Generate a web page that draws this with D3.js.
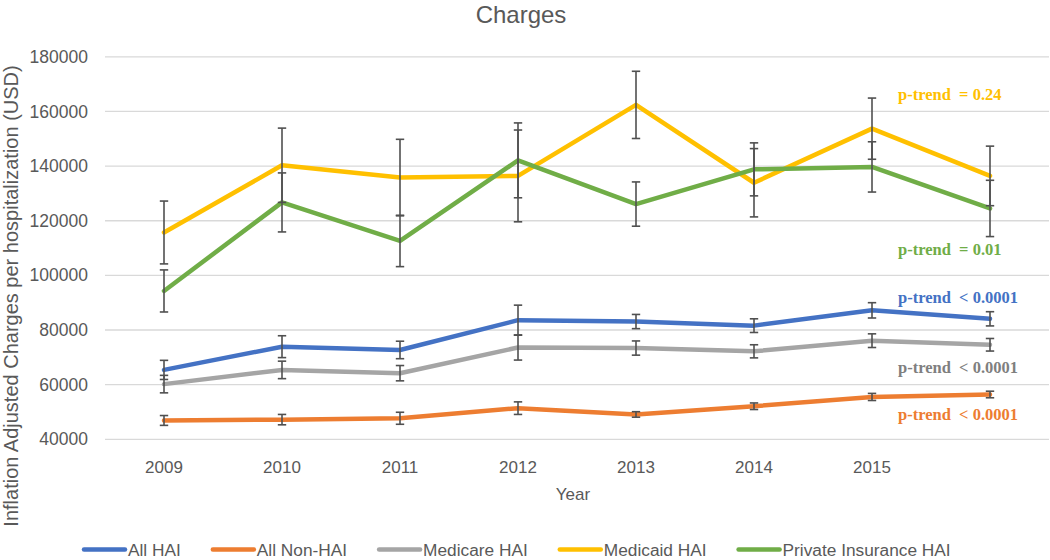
<!DOCTYPE html>
<html>
<head>
<meta charset="utf-8">
<script src="https://cdn.jsdelivr.net/npm/d3@7"></script>
<style>
  html, body { margin: 0; padding: 0; background: #fff; }
  svg { display: block; }
</style>
</head>
<body>
<svg id="chart" width="1050" height="560"></svg>
<script>
// ---------- DATA ----------
const years = ["2009", "2010", "2011", "2012", "2013", "2014", "2015", "2016"];
const tickLabels = ["2009", "2010", "2011", "2012", "2013", "2014", "2015", ""];
const yTicks = [40000, 60000, 80000, 100000, 120000, 140000, 160000, 180000];

const seriesNames = ["All HAI", "All Non-HAI", "Medicare HAI", "Medicaid HAI", "Private Insurance HAI"];

const allHAI      = [65400, 73900, 72700, 83600, 83100, 81600, 87200, 84100];
const allHAIErr   = [3500, 4000, 3200, 5500, 2600, 2500, 2800, 2600];
const allNonHAI    = [46900, 47200, 47700, 51400, 49100, 52100, 55500, 56400];
const allNonHAIErr = [1800, 1900, 2200, 2300, 1000, 1200, 1300, 1200];
const medicare    = [60200, 65400, 64200, 73600, 73400, 72200, 76100, 74600];
const medicareErr = [3200, 3200, 2800, 4600, 2600, 2400, 2500, 2300];
const medicaid    = [115700, 140300, 135800, 136400, 162400, 133900, 153700, 136400];
const medicaidErr = [11500, 13600, 14000, 16800, 12300, 12500, 11200, 10900];
const privateIns    = [94300, 126700, 112600, 142100, 126100, 138800, 139700, 124500];
const privateInsErr = [7700, 10800, 9400, 13700, 8100, 9700, 9200, 10300];

const pTrendLabels = ["p-trend  < 0.0001", "p-trend  < 0.0001", "p-trend  < 0.0001", "p-trend  = 0.24", "p-trend  = 0.01"];

// ---------- STYLE / LAYOUT ----------
const sans = "'Liberation Sans', Arial, sans-serif";
const serif = "'Liberation Serif', 'Times New Roman', serif";
const colors = ["#4472C4", "#ED7D31", "#A5A5A5", "#FFC000", "#70AD47"];
const labelColors = ["#4472C4", "#ED7D31", "#7F7F7F", "#FFC000", "#70AD47"];
const labelY = [302.5, 420, 372.5, 100, 255];

const values = [allHAI, allNonHAI, medicare, medicaid, privateIns];
const errors = [allHAIErr, allNonHAIErr, medicareErr, medicaidErr, privateInsErr];

const series = seriesNames.map((name, i) => ({
  name,
  color: colors[i],
  points: years.map((yr, j) => ({ year: yr, v: values[i][j], e: errors[i][j] }))
}));

const svg = d3.select("#chart");
const plot = { left: 105, right: 1049, top: 56.8, bottom: 439.3 };

const x = d3.scaleBand().domain(years).range([plot.left, plot.right]);
const xc = d => x(d) + x.bandwidth() / 2;
const y = d3.scaleLinear().domain([40000, 180000]).range([plot.bottom, plot.top]);

// Title
svg.append("text")
  .attr("x", 521).attr("y", 23)
  .attr("text-anchor", "middle")
  .style("font-family", sans)
  .attr("font-size", 24)
  .attr("fill", "#595959")
  .text("Charges");

// Gridlines
svg.append("g")
  .selectAll("line")
  .data(yTicks)
  .join("line")
  .attr("x1", plot.left).attr("x2", plot.right)
  .attr("y1", d => y(d)).attr("y2", d => y(d))
  .attr("stroke", "#D9D9D9")
  .attr("stroke-width", 1.3);

// Y axis (labels only)
const yAxis = d3.axisLeft(y).tickValues(yTicks).tickFormat(d3.format("d")).tickSize(0).tickPadding(0);
const gy = svg.append("g").attr("transform", "translate(88,0)").call(yAxis);
gy.select(".domain").remove();
gy.selectAll("text")
  .style("font-family", sans)
  .attr("font-size", 17.5)
  .attr("fill", "#595959");

// X axis (labels only)
const xAxis = d3.axisBottom(x).tickFormat((d, i) => tickLabels[i]).tickSize(0).tickPadding(0);
const gx = svg.append("g").attr("transform", "translate(0,458)").call(xAxis);
gx.select(".domain").remove();
gx.selectAll("text")
  .style("font-family", sans)
  .attr("font-size", 17)
  .attr("fill", "#595959")
  .attr("dy", "0.9em");

// Axis titles
svg.append("text")
  .attr("x", 573).attr("y", 500)
  .attr("text-anchor", "middle")
  .style("font-family", sans)
  .attr("font-size", 17)
  .attr("fill", "#595959")
  .text("Year");

svg.append("text")
  .attr("transform", "translate(18,296) rotate(-90)")
  .attr("text-anchor", "middle")
  .style("font-family", sans)
  .attr("font-size", 20)
  .attr("fill", "#595959")
  .text("Inflation Adjusted Charges per hospitalization (USD)");

// Lines
const line = d3.line().x(d => xc(d.year)).y(d => y(d.v));
svg.append("g")
  .selectAll("path")
  .data(series)
  .join("path")
  .attr("d", d => line(d.points))
  .attr("fill", "none")
  .attr("stroke", d => d.color)
  .attr("stroke-width", 4.5)
  .attr("stroke-linejoin", "round")
  .attr("stroke-linecap", "round");

// Error bars
const ebColor = "#505050";
const capW = 4.2;
const eg = svg.append("g");
series.forEach(s => {
  const g = eg.append("g");
  g.selectAll("line.v").data(s.points).join("line").attr("class", "v")
    .attr("x1", d => xc(d.year)).attr("x2", d => xc(d.year))
    .attr("y1", d => y(d.v + d.e)).attr("y2", d => y(d.v - d.e))
    .attr("stroke", ebColor).attr("stroke-width", 1.6);
  g.selectAll("line.t").data(s.points).join("line").attr("class", "t")
    .attr("x1", d => xc(d.year) - capW).attr("x2", d => xc(d.year) + capW)
    .attr("y1", d => y(d.v + d.e)).attr("y2", d => y(d.v + d.e))
    .attr("stroke", ebColor).attr("stroke-width", 1.6);
  g.selectAll("line.b").data(s.points).join("line").attr("class", "b")
    .attr("x1", d => xc(d.year) - capW).attr("x2", d => xc(d.year) + capW)
    .attr("y1", d => y(d.v - d.e)).attr("y2", d => y(d.v - d.e))
    .attr("stroke", ebColor).attr("stroke-width", 1.6);
});

// p-trend annotations
svg.append("g")
  .selectAll("text")
  .data(pTrendLabels)
  .join("text")
  .attr("x", 898)
  .attr("y", (d, i) => labelY[i])
  .style("font-family", serif)
  .style("font-weight", "bold")
  .style("white-space", "pre")
  .attr("font-size", 16.5)
  .attr("fill", (d, i) => labelColors[i])
  .text(d => d);

// Legend
const lg = svg.append("g");
let lx = 82;
const ly = 549.5;
series.forEach(s => {
  lg.append("line")
    .attr("x1", lx + 2).attr("x2", lx + 43)
    .attr("y1", ly).attr("y2", ly)
    .attr("stroke", s.color).attr("stroke-width", 4.5)
    .attr("stroke-linecap", "round");
  const t = lg.append("text")
    .attr("x", lx + 46).attr("y", ly + 6)
    .style("font-family", sans)
    .attr("font-size", 17.3)
    .attr("fill", "#595959")
    .text(s.name);
  lx = lx + 46 + t.node().getComputedTextLength() + 30;
});
</script>
</body>
</html>
